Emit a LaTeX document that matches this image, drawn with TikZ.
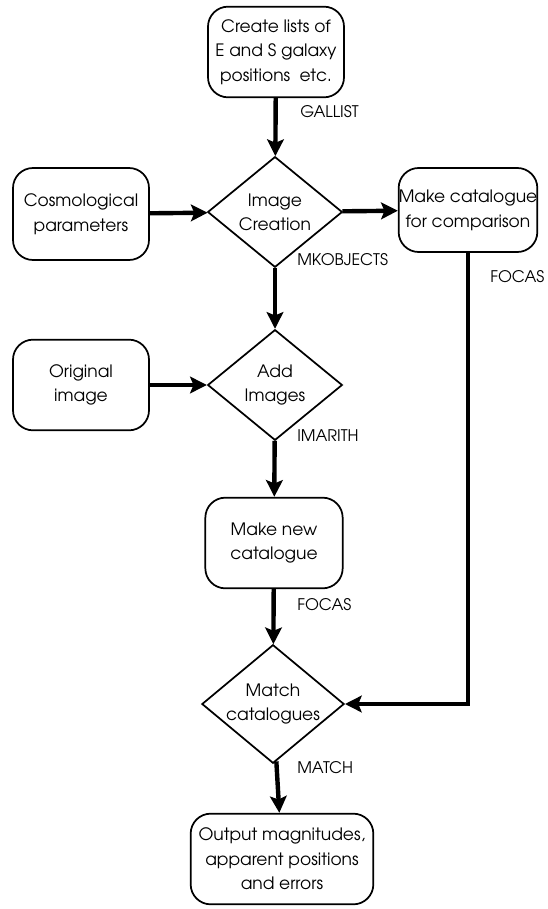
\documentclass[tikz,border=0pt]{standalone}
\usepackage{fontspec}
\setmainfont{texgyreadventor}[Extension=.otf,UprightFont=*-regular]
\usetikzlibrary{shapes.geometric,arrows.meta}

\tikzset{
  stepbox/.style={draw, line width=1.3pt, rounded corners=15pt, align=center,
    minimum width=102pt, minimum height=68pt, inner sep=0pt,
    font=\fontsize{12.8}{18.5}\selectfont},
  decision/.style={draw, diamond, line width=1.3pt, align=center,
    minimum width=101pt, minimum height=83pt, inner sep=0pt, aspect=1.2,
    font=\fontsize{12.8}{18}\selectfont},
  tag/.style={anchor=west, inner sep=0pt, font=\fontsize{12}{14}\selectfont},
  flow/.style={line width=3.3pt, -{Stealth[length=12.5pt,width=12.5pt,inset=2.5pt]}}
}

\begin{document}
\begin{tikzpicture}[x=0.75pt,y=-0.75pt]
  % page frame
  \useasboundingbox (0,0) rectangle (547,909);

  % boxes
  \node[stepbox] (lists) at (276,52) {Create lists of\\E and S galaxy\\positions\ \ etc.};
  \node[stepbox, minimum height=69pt] (cosmo) at (81,214) {Cosmological\\parameters};
  \node[stepbox, minimum width=104pt, minimum height=63pt] (compare) at (468,210) {Make catalogue\\for comparison};
  \node[stepbox] (orig) at (81,385) {Original\\image};
  \node[stepbox, minimum width=103pt] (newcat) at (274,543) {Make new\\catalogue};
  \node[stepbox, minimum width=137pt] (output) at (282,859) {Output magnitudes,\\apparent positions\\and errors};

  % decisions
  \node[decision] (create) at (275,212) {Image\\Creation};
  \node[decision] (add) at (275,385) {Add\\Images};
  \node[decision] (match) at (273,704) {Match\\catalogues};

  % task names
  \node[tag] (gallist) at (300,112) {GALLIST};
  \node[tag] (mkobj) at (297,260) {MKOBJECTS};
  \node[tag] (focasa) at (490,277) {FOCAS};
  \node[tag] (imarith) at (297,436) {IMARITH};
  \node[tag] (focasb) at (297,605) {FOCAS};
  \node[tag] (matchtag) at (297,768) {MATCH};

  % connectors
  \draw[flow] (lists) -- (create);
  \draw[flow] (cosmo) -- (create);
  \draw[flow] (create) -- (compare);
  \draw[flow] (create) -- (add);
  \draw[flow] (orig) -- (add);
  \draw[flow] (add) -- (newcat);
  \draw[flow] (newcat) -- (match);
  \draw[flow] (compare.south) |- (match.east);
  \draw[flow] (match) -- (output);
\end{tikzpicture}
\end{document}
